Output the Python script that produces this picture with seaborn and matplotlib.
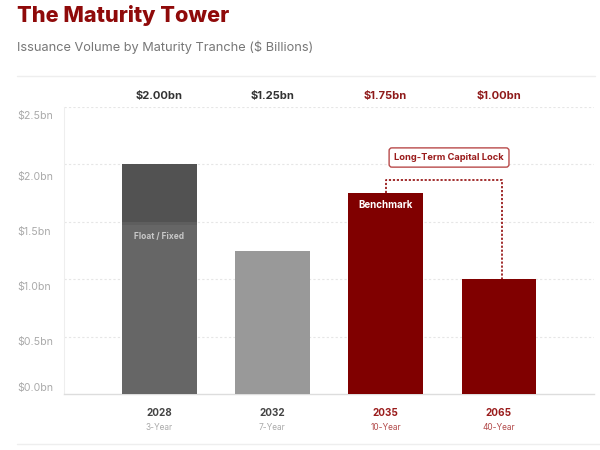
import matplotlib
matplotlib.use("Agg")
import matplotlib.pyplot as plt
import seaborn as sns
import pandas as pd
from matplotlib.transforms import blended_transform_factory, ScaledTranslation
from matplotlib.lines import Line2D
import matplotlib.patheffects as pe

# ---- data ----
years = ["2028", "2032", "2035", "2065"]
tenors = ["3-Year", "7-Year", "10-Year", "40-Year"]
volumes = [2.00, 1.25, 1.75, 1.00]
value_labels = ["$2.00bn", "$1.25bn", "$1.75bn", "$1.00bn"]
float_part_2028 = 1.50          # lower segment of the 2028 tranche
y_ticks = [0.0, 0.5, 1.0, 1.5, 2.0, 2.5]
y_tick_labels = ["$0.0bn", "$0.5bn", "$1.0bn", "$1.5bn", "$2.0bn", "$2.5bn"]

RED = "#800000"
TITLE_RED = "#8f0a0a"
bar_colors = ["#666666", "#999999", RED, RED]
head_colors = ["#333333", "#333333", "#8f1a1a", "#8f1a1a"]
year_colors = ["#444444", "#444444", "#9a1c1c", "#9a1c1c"]
sub_colors = ["#aaaaaa", "#aaaaaa", "#b24a4a", "#b24a4a"]

sns.set_theme(style="white")
plt.rcParams["font.family"] = ["Inter", "DejaVu Sans"]

fig = plt.figure(figsize=(6, 4.5), dpi=100)
ax = fig.add_axes([64 / 600, 1 - 394 / 450, (594 - 64) / 600, (394 - 107) / 450])

df = pd.DataFrame({"year": years, "volume": volumes})
sns.barplot(data=df, x="year", y="volume", hue="year", palette=bar_colors,
            width=0.66, legend=False, ax=ax, saturation=1, zorder=3, linewidth=0)

# darker "fixed" top segment on 2028 bar
ax.bar(0, volumes[0] - float_part_2028, bottom=float_part_2028, width=0.66,
       color="#525252", zorder=4, linewidth=0)

for p in ax.patches:
    p.set_linewidth(0)
    p.set_path_effects([pe.SimplePatchShadow(offset=(0, -2), alpha=0.08, shadow_rgbFace="#000000"), pe.Normal()])

ax.set_xlim(-0.84, 3.84)
ax.set_ylim(0, 2.5)
ax.set_xlabel("")
ax.set_ylabel("")
ax.set_xticks([])
ax.set_yticks(y_ticks)
ax.set_yticklabels(y_tick_labels, color="#aaaaaa", fontsize=7.6)
ax.tick_params(axis="y", length=0, pad=0)
# label offsets (px, positive = down) to follow the reference layout
offs = [-7, 4, 7, 9, 12, 8]
for lab, d in zip(ax.get_yticklabels(), offs):
    lab.set_transform(lab.get_transform() + ScaledTranslation(0, -d / 100, fig.dpi_scale_trans))
    lab.set_horizontalalignment("left")
    lab.set_x(-(64 - 17) / 530)

for y in y_ticks[1:]:
    ax.axhline(y, color="#e6e6e6", lw=0.8, ls=(0, (2, 2)), zorder=0)

for s in ["top", "right"]:
    ax.spines[s].set_visible(False)
ax.spines["left"].set_color("#eeeeee")
ax.spines["left"].set_linewidth(0.8)
ax.spines["bottom"].set_color("#dddddd")
ax.spines["bottom"].set_linewidth(1.0)

tr = blended_transform_factory(ax.transData, ax.transAxes)
for i in range(len(years)):
    ax.text(i, 1.038, value_labels[i], transform=tr, ha="center", va="center",
            fontsize=8, fontweight="bold", color=head_colors[i])
    ax.text(i, -0.066, years[i], transform=tr, ha="center", va="center",
            fontsize=7.2, fontweight="bold", color=year_colors[i])
    ax.text(i, -0.115, tenors[i], transform=tr, ha="center", va="center",
            fontsize=6.0, color=sub_colors[i])

# in-bar annotations
ax.text(0, 1.375, "Float / Fixed", ha="center", va="center", fontsize=6.0,
        fontweight="bold", color="#c8c8c8", zorder=6)
ax.text(2, 1.645, "Benchmark", ha="center", va="center", fontsize=7,
        fontweight="bold", color="white", zorder=6)

# bracket linking the long-dated tranches
yb = 1.865
ax.plot([2, 2, 3.03, 3.03], [volumes[2], yb, yb, volumes[3]], color="#9a1c1c",
        lw=1.3, ls=(0, (1.2, 1.0)), zorder=5, clip_on=False)
ax.text(2.56, 2.06, "Long-Term Capital Lock", ha="center", va="center", fontsize=6.7,
        fontweight="bold", color="#9a1c1c", zorder=6,
        bbox=dict(boxstyle="round,pad=0.55,rounding_size=0.3", fc="white",
                  ec="#b84a4a", lw=1.0))

# titles and separator lines
fig.text(17 / 600, 1 - 16 / 450, "The Maturity Tower", fontsize=15.6, fontweight="heavy",
         color=TITLE_RED, ha="left", va="center")
fig.text(17 / 600, 1 - 47 / 450, "Issuance Volume by Maturity Tranche ($ Billions)",
         fontsize=9.2, color="#777777", ha="left", va="center")
fig.add_artist(Line2D([17 / 600, 595 / 600], [1 - 76 / 450, 1 - 76 / 450],
                      color="#eeeeee", lw=1.0))
fig.add_artist(Line2D([17 / 600, 1.0], [1 - 444 / 450, 1 - 444 / 450],
                      color="#eeeeee", lw=1.0))

fig.savefig("out.png", dpi=100)
